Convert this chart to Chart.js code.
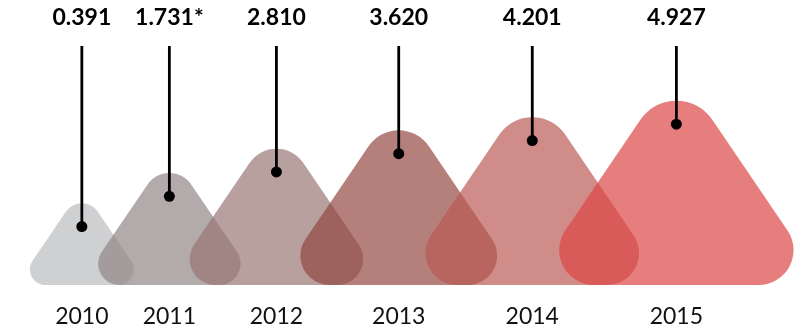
<!DOCTYPE html>
<html>
<head>
<meta charset="utf-8">
<script src="https://cdn.jsdelivr.net/npm/chart.js@4/dist/chart.umd.min.js"></script>
<style>
  html, body { margin: 0; padding: 0; background: #fff; }
</style>
</head>
<body>
<canvas id="myChart" width="794" height="331"></canvas>
<script>
// yearly figures, one fin per year
const years = ['2010', '2011', '2012', '2013', '2014', '2015']
const values = [0.391, 1.731, 2.810, 3.620, 4.201, 4.927]
const notes = ['', '*', '', '', '', '']

const finColors = [
  'rgba(186, 187, 190, 0.69)',
  'rgba(145, 132, 133, 0.69)',
  'rgba(152, 117, 116, 0.69)',
  'rgba(148, 71, 64, 0.69)',
  'rgba(187, 88, 84, 0.69)',
  'rgba(220, 68, 68, 0.69)'
]

// fins stand on this value; the rounded tip ends about one unit above each value
const BASELINE = -2.2
const apexes = values.map(v => BASELINE + 1.188 * (v + 1.02 - BASELINE))
const halfBase = apexes.map(a => 0.675 * (a - BASELINE))

// neighbouring fins overlap, so each centre is pushed along by the fin sizes
const centers = []
halfBase.forEach((b, i) => {
  centers.push(i === 0 ? b + 0.47 : centers[i - 1] + 0.81 + 0.444 * (halfBase[i - 1] + b))
})

const finPlugin = {
  id: 'fins',
  beforeDatasetsDraw (chart) {
    const { ctx, scales: { x, y } } = chart
    const base = y.getPixelForValue(BASELINE)
    ctx.save()
    values.forEach((v, i) => {
      const cx = x.getPixelForValue(centers[i])
      const left = x.getPixelForValue(centers[i] - halfBase[i])
      const right = x.getPixelForValue(centers[i] + halfBase[i])
      const top = y.getPixelForValue(apexes[i])
      const h = base - top
      ctx.beginPath()
      ctx.moveTo(cx, base)
      ctx.arcTo(left, base, cx, top, h * 0.16)
      ctx.arcTo(cx, top, right, base, h * 0.2)
      ctx.arcTo(right, base, cx, base, h * 0.16)
      ctx.closePath()
      ctx.fillStyle = finColors[i]
      ctx.fill()
    })
    // stems from the labels down to the dots
    ctx.strokeStyle = '#000'
    ctx.lineWidth = 2.8
    values.forEach((v, i) => {
      const cx = x.getPixelForValue(centers[i])
      ctx.beginPath()
      ctx.moveTo(cx, 46)
      ctx.lineTo(cx, y.getPixelForValue(v))
      ctx.stroke()
    })
    ctx.restore()
  },
  afterDraw (chart) {
    const { ctx, scales: { x } } = chart
    ctx.save()
    ctx.textAlign = 'center'
    ctx.textBaseline = 'middle'
    values.forEach((v, i) => {
      const cx = x.getPixelForValue(centers[i])
      ctx.fillStyle = '#000'
      ctx.font = 'bold 23px Lato'
      ctx.fillText(v.toFixed(3) + notes[i], cx, 18)
      ctx.fillStyle = '#111'
      ctx.font = '23px Lato'
      ctx.fillText(years[i], cx, 317)
    })
    ctx.restore()
  }
}

const ctx = document.getElementById('myChart').getContext('2d')
const myChart = new Chart(ctx, {
  type: 'scatter',
  data: {
    datasets: [{
      data: values.map((v, i) => ({ x: centers[i], y: v })),
      pointRadius: 5.5,
      pointBackgroundColor: '#000',
      pointBorderWidth: 0,
      clip: false
    }]
  },
  options: {
    responsive: false,
    animation: false,
    devicePixelRatio: 1,
    events: [],
    layout: { padding: { top: 0, left: 0, right: 0, bottom: 46 } },
    plugins: {
      legend: { display: false },
      tooltip: { enabled: false }
    },
    scales: {
      x: { type: 'linear', min: 0, max: 34.52, display: false },
      y: { type: 'linear', min: BASELINE, max: 10.19, display: false }
    }
  },
  plugins: [finPlugin]
})
</script>
</body>
</html>
